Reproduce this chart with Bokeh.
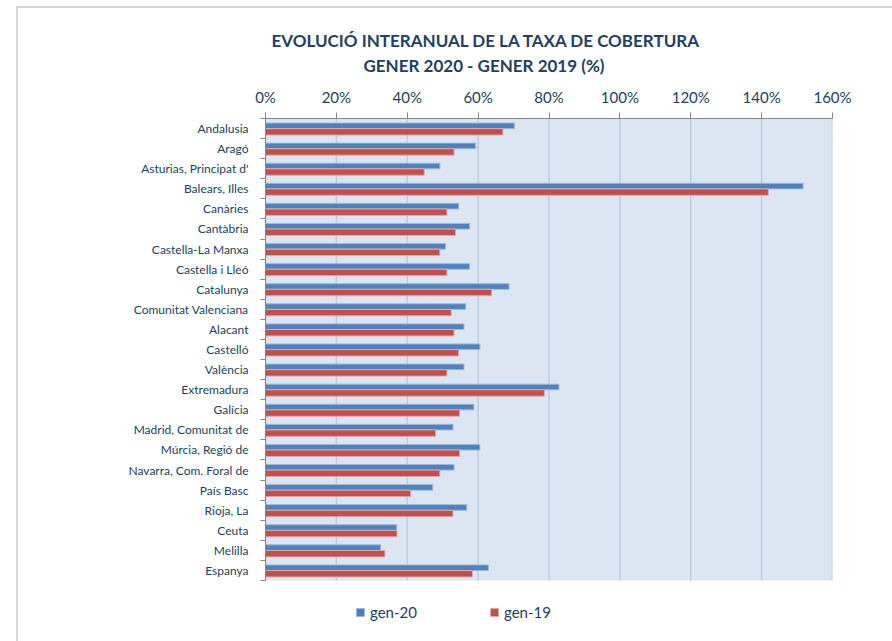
from bokeh.plotting import figure
from bokeh.models import (Range1d, FixedTicker, Legend, LegendItem, Title, ColumnDataSource,
                          BoxAnnotation)
from bokeh.embed import file_html
from bokeh.resources import INLINE

categories = ["Andalusia", "Aragó", "Asturias, Principat d'", "Balears, Illes", "Canàries",
              "Cantàbria", "Castella-La Manxa", "Castella i Lleó", "Catalunya",
              "Comunitat Valenciana", "Alacant", "Castelló", "València", "Extremadura",
              "Galícia", "Madrid, Comunitat de", "Múrcia, Regió de", "Navarra, Com. Foral de",
              "País Basc", "Rioja, La", "Ceuta", "Melilla", "Espanya"]
gen20 = [70.2, 59.3, 49.2, 151.7, 54.5, 57.6, 50.8, 57.6, 68.7, 56.5, 56.0, 60.5, 56.0,
         82.8, 58.8, 52.9, 60.5, 53.2, 47.2, 56.8, 37.0, 32.5, 62.9]
gen19 = [67.0, 53.2, 44.8, 141.9, 51.2, 53.6, 49.2, 51.2, 63.8, 52.4, 53.2, 54.5, 51.2,
         78.7, 54.8, 48.0, 54.8, 49.2, 41.0, 52.9, 37.1, 33.7, 58.4]
x_ticks = [0, 20, 40, 60, 80, 100, 120, 140, 160]
title_lines = ["EVOLUCIÓ INTERANUAL DE LA TAXA DE COBERTURA", "GENER 2020 - GENER 2019 (%)"]
series_names = ["gen-20", "gen-19"]

FONT = "Lato"
NAVY = "#243F60"
BLUE = "#4F81BD"
RED = "#C0504D"

n = len(categories)
idx = list(range(n))

# layout constants (pixels)
W, H = 892, 641
TOP, LEFT, RIGHT = 118, 265, 832
AREA_H = 462                      # height of the shaded plot area
LEGEND_SPACE = H - TOP - AREA_H   # white strip under the plot area holding the legend
unit = AREA_H / n
y_lo = n - 0.5 + LEGEND_SPACE / unit

p = figure(width=W, height=H, output_backend="svg", toolbar_location=None,
           x_range=Range1d(0, 160), y_range=Range1d(y_lo, -0.5),
           x_axis_location="above", min_border_left=LEFT, min_border_right=W - RIGHT,
           min_border_top=TOP, min_border_bottom=0)
p.background_fill_color = None
p.border_fill_color = None
p.outline_line_color = None
p.styles = {
    "background-color": "white",
    "background-image": "linear-gradient(#D9D9D9, #D9D9D9), linear-gradient(#D9D9D9, #D9D9D9)",
    "background-size": "880px 2px, 2px 640px",
    "background-position": "16px 6px, 16px 6px",
    "background-repeat": "no-repeat",
}

# shaded plot area
p.add_layout(BoxAnnotation(left=0, right=160, top=-0.5, bottom=n - 0.5,
                           fill_color="#DCE6F2", fill_alpha=1, line_color=None, level="image"))

# vertical grid lines, only over the plot area
p.segment(x0=x_ticks, x1=x_ticks, y0=[-0.5] * len(x_ticks), y1=[n - 0.5] * len(x_ticks),
          line_color="#B9CDE5", line_width=1.5)
p.xgrid.grid_line_color = None
p.ygrid.grid_line_color = None

src = ColumnDataSource(dict(y=idx, y20=[i - 0.135 for i in idx], y19=[i + 0.165 for i in idx],
                            gen20=gen20, gen19=gen19))
r20 = p.hbar(y="y20", right="gen20", left=0, height=0.28, source=src,
             fill_color=BLUE, line_color="#9CB8DA", line_width=1)
r19 = p.hbar(y="y19", right="gen19", left=0, height=0.32, source=src,
             fill_color=RED, line_color="#E3A9A8", line_width=1)

# top axis
xa = p.xaxis[0]
xa.ticker = FixedTicker(ticks=x_ticks)
xa.major_label_overrides = {t: f"{t}%" for t in x_ticks}
xa.axis_line_color = "#868686"
xa.major_tick_line_color = "#868686"
xa.major_tick_out = 6
xa.major_tick_in = 0
xa.minor_tick_line_color = None
xa.major_label_text_font = FONT
xa.major_label_text_font_size = "15px"
xa.major_label_text_color = NAVY
xa.major_label_standoff = 7

# left axis
ya = p.yaxis[0]
ya.ticker = FixedTicker(ticks=idx, minor_ticks=[i - 0.5 for i in range(n + 1)])
ya.bounds = (-0.5, n - 0.5)
ya.major_label_overrides = {i: c for i, c in enumerate(categories)}
ya.axis_line_color = "#868686"
ya.major_tick_line_color = None
ya.major_tick_out = 0
ya.major_tick_in = 0
ya.minor_tick_line_color = "#868686"
ya.minor_tick_out = 5
ya.minor_tick_in = 0
ya.major_label_text_font = FONT
ya.major_label_text_font_size = "12px"
ya.major_label_text_color = NAVY
ya.major_label_standoff = 12

# title lines (line 2 nearest the axis)
for line, so, off in [(title_lines[1], 17, 98), (title_lines[0], -13, 6)]:
    p.add_layout(Title(text=line, align="left", offset=off, standoff=so,
                       text_font=FONT, text_font_style="bold", text_font_size="17px",
                       text_color=NAVY), "above")

legend = Legend(items=[LegendItem(label=series_names[0], renderers=[r20]),
                       LegendItem(label=series_names[1], renderers=[r19])],
                orientation="horizontal", location=(90, 20), glyph_width=10, glyph_height=10,
                label_standoff=5, label_width=60, spacing=59, padding=0, margin=0,
                border_line_color=None, background_fill_alpha=0,
                label_text_font=FONT, label_text_font_size="15px", label_text_color=NAVY)
p.add_layout(legend, "center")

open("out.html", "w").write(file_html(p, INLINE))
